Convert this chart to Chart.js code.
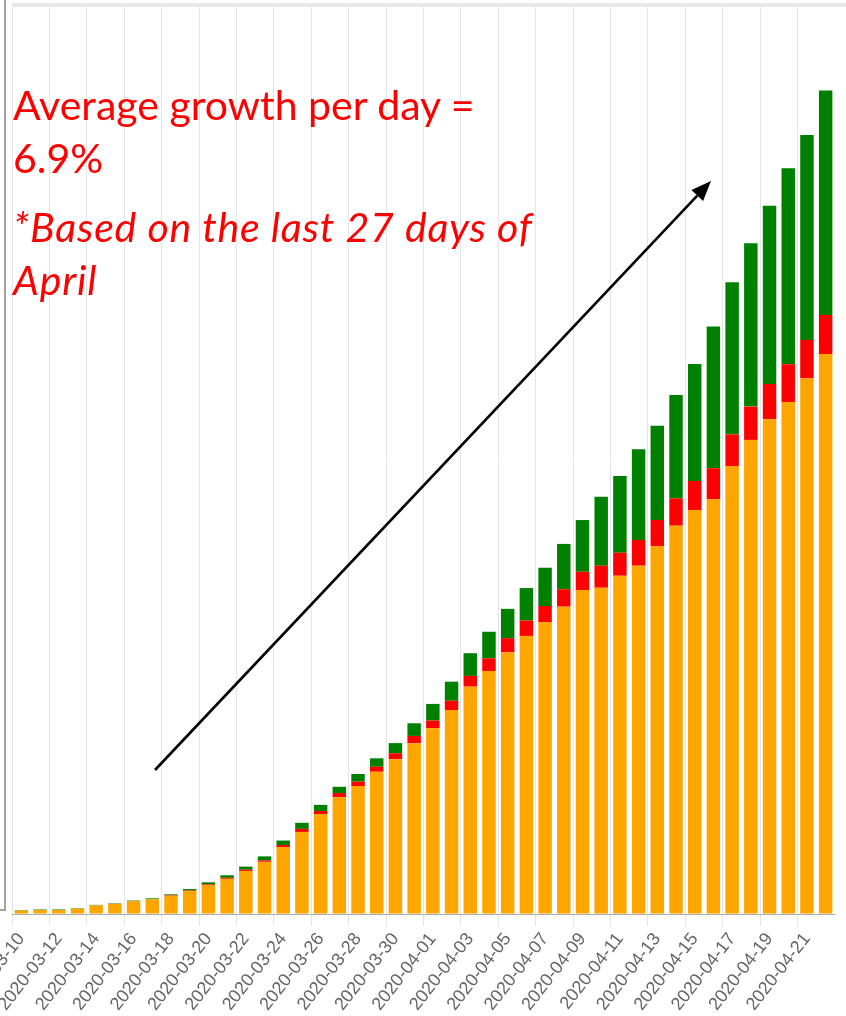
<!DOCTYPE html>
<html>
<head>
<meta charset="utf-8">
<script src="https://cdn.jsdelivr.net/npm/chart.js@4.4.1/dist/chart.umd.min.js"></script>
<style>
  html, body { margin: 0; padding: 0; background: #fff; }
  #wrap { position: relative; width: 846px; height: 1016px; overflow: hidden; }
  #chart { position: absolute; left: 0; top: 0; }
  .frame { position: absolute; }
  .note {
    position: absolute; left: 13px; color: #ff0000;
    font-family: Lato, "Open Sans", sans-serif; font-size: 41px;
    line-height: 53px; white-space: nowrap;
  }
  .note.italic { font-style: italic; letter-spacing: 0.8px; }
</style>
</head>
<body>
<div id="wrap">
  <canvas id="chart" width="846" height="1016"></canvas>
  <div class="frame" style="left:4px;top:0;width:2px;height:911px;background:#a3a3a3"></div>
  <div class="frame" style="left:0;top:909px;width:6px;height:2px;background:#a3a3a3"></div>
  <div class="frame" style="left:12px;top:3px;width:834px;height:4px;background:#e8e8e8"></div>
  <div class="note" style="top:78px">Average growth per day =<br>6.9%</div>
  <div class="note italic" style="top:200px">*Based on the last 27 days of<br>April</div>
</div>
<script>
// categories
const dates = [
    "2020-03-10", "2020-03-11", "2020-03-12", "2020-03-13", "2020-03-14", "2020-03-15",
    "2020-03-16", "2020-03-17", "2020-03-18", "2020-03-19", "2020-03-20", "2020-03-21",
    "2020-03-22", "2020-03-23", "2020-03-24", "2020-03-25", "2020-03-26", "2020-03-27",
    "2020-03-28", "2020-03-29", "2020-03-30", "2020-03-31", "2020-04-01", "2020-04-02",
    "2020-04-03", "2020-04-04", "2020-04-05", "2020-04-06", "2020-04-07", "2020-04-08",
    "2020-04-09", "2020-04-10", "2020-04-11", "2020-04-12", "2020-04-13", "2020-04-14",
    "2020-04-15", "2020-04-16", "2020-04-17", "2020-04-18", "2020-04-19", "2020-04-20",
    "2020-04-21", "2020-04-22"
];

// series (orange / red / green, stacked bottom to top)
const active = [
    21, 25, 25, 34, 54, 64, 81, 92, 114, 144, 181, 220, 269, 326, 418,
    513, 625, 731, 800, 889, 967, 1067, 1161, 1275, 1421, 1519, 1636, 1738, 1823,
    1921, 2025, 2039, 2114, 2177, 2300, 2427, 2525, 2592, 2800, 2963, 3092, 3200, 3348, 3500
];
const deaths = [
    0, 0, 0, 0, 0, 0, 0, 0, 3, 3, 4, 6, 8, 9, 13,
    19, 19, 25, 27, 31, 38, 46, 48, 58, 67, 79, 88, 96, 102,
    109, 114, 138, 144, 161, 163, 171, 181, 194, 198, 208, 221, 236, 240, 244
];
const recovered = [
    3, 3, 3, 3, 3, 3, 3, 6, 6, 9, 13, 16, 19, 25, 28,
    38, 38, 39, 48, 53, 63, 79, 104, 119, 142, 166, 183, 203, 239,
    283, 323, 431, 479, 567, 589, 646, 731, 885, 950, 1021, 1114, 1225, 1281, 1402
];

const yStep = 1000;
const yMax = 5681;

// arrow drawn over the chart
const arrowFrom = [155, 770];
const arrowTo = [711, 181];

const arrowPlugin = {
    id: "arrow",
    afterDraw(chart) {
        const c = chart.ctx;
        const [x1, y1] = arrowFrom;
        const [x2, y2] = arrowTo;
        const ang = Math.atan2(y2 - y1, x2 - x1);
        const headLen = 20, headW = 8;
        const bx = x2 - headLen * Math.cos(ang);
        const by = y2 - headLen * Math.sin(ang);
        c.save();
        c.strokeStyle = "#000";
        c.fillStyle = "#000";
        c.lineWidth = 2.6;
        c.beginPath();
        c.moveTo(x1, y1);
        c.lineTo(bx, by);
        c.stroke();
        c.beginPath();
        c.moveTo(x2, y2);
        c.lineTo(bx + headW * Math.sin(ang), by - headW * Math.cos(ang));
        c.lineTo(bx - headW * Math.sin(ang), by + headW * Math.cos(ang));
        c.closePath();
        c.fill();
        c.restore();
    }
};

const ctx = document.getElementById("chart").getContext("2d");

new Chart(ctx, {
    type: "bar",
    data: {
        labels: dates,
        datasets: [
            { label: "Active", data: active, backgroundColor: "#ffa500" },
            { label: "Deaths", data: deaths, backgroundColor: "#ff0000" },
            { label: "Recovered", data: recovered, backgroundColor: "#008000" }
        ]
    },
    options: {
        responsive: false,
        animation: false,
        layout: { padding: { left: 12, right: 11, top: 5, bottom: 0 } },
        plugins: {
            legend: { display: false },
            tooltip: { enabled: false }
        },
        scales: {
            x: {
                stacked: true,
                grid: {
                    tickLength: 12,
                    color: c => (c.index !== undefined && c.index % 2 === 0) ? "rgba(0,0,0,0.1)" : "rgba(0,0,0,0)"
                },
                border: { color: "rgba(0,0,0,0.25)" },
                ticks: {
                    autoSkip: false,
                    minRotation: 52,
                    maxRotation: 52,
                    padding: 3,
                    color: "#666",
                    font: { family: "'Liberation Sans', Arial, sans-serif", size: 18 },
                    callback: function (v, i) { return i % 2 === 0 ? this.getLabelForValue(v) : ""; }
                },
                afterFit: s => { s.height = 102; s.paddingLeft = 0; s.paddingRight = 0; }
            },
            y: {
                stacked: true,
                min: 0,
                max: yMax,
                ticks: { display: false, stepSize: yStep },
                grid: {
                    drawTicks: false,
                    color: c => (c.tick && c.tick.value % yStep === 0) ? "rgba(0,0,0,0.1)" : "rgba(0,0,0,0)"
                },
                border: { display: false },
                afterFit: s => { s.width = 0; }
            }
        }
    },
    plugins: [arrowPlugin]
});
</script>
</body>
</html>
